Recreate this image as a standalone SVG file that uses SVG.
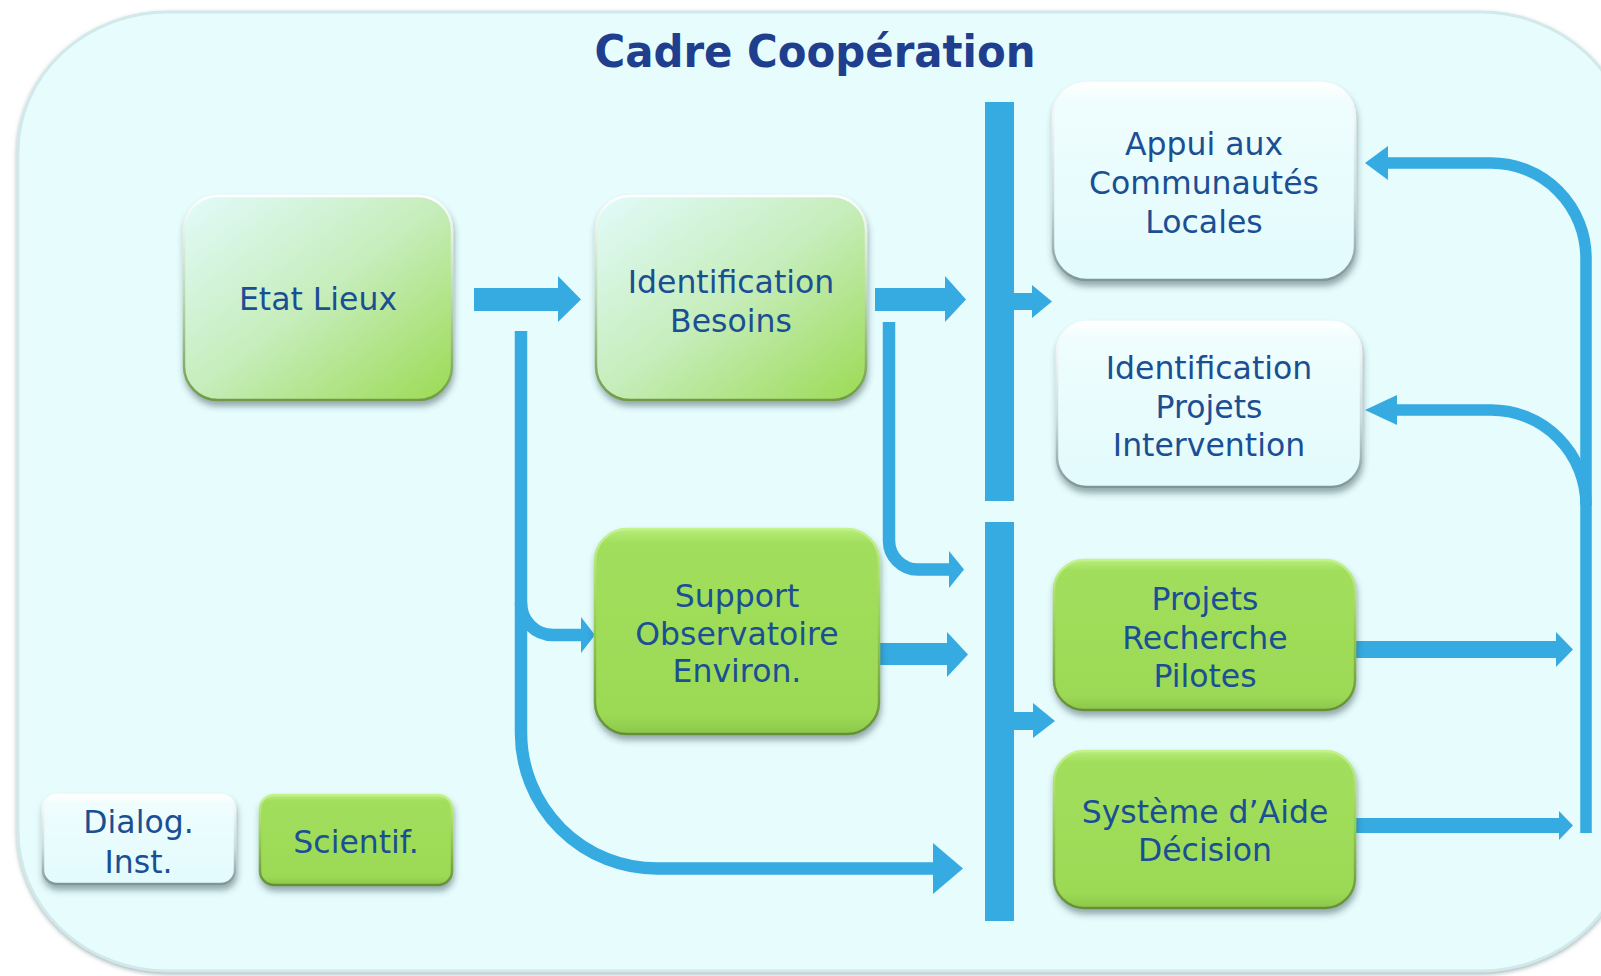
<svg xmlns="http://www.w3.org/2000/svg" width="1601" height="976" viewBox="0 0 1601 976">
<defs>
<style>
.t{font-family:"DejaVu Sans",Verdana,"Liberation Sans",sans-serif;font-size:31.5px;fill:#1b4f93;text-anchor:middle}
.title{font-family:"DejaVu Sans",Verdana,"Liberation Sans",sans-serif;font-size:45px;font-weight:bold;fill:#1f3f8e;text-anchor:middle}
.ln{fill:none;stroke:#35abe2;stroke-width:12.5}
.ah{fill:#35abe2;stroke:none}
.g{fill:url(#greenFill);stroke:url(#greenEdge);stroke-width:2.5}
.l{fill:url(#lightFill);stroke:url(#lightEdge);stroke-width:2.5}
.gr{fill:url(#gradFill);stroke:url(#gradEdge);stroke-width:2.5}
</style>
<filter id="sh" x="-10%" y="-10%" width="120%" height="130%">
<feDropShadow dx="1" dy="5" stdDeviation="3" flood-color="#2f4548" flood-opacity="0.45"/>
</filter>
<filter id="shc" x="-5%" y="-5%" width="110%" height="110%">
<feDropShadow dx="0" dy="2" stdDeviation="2" flood-color="#6f8c90" flood-opacity="0.6"/>
</filter>
<linearGradient id="gradFill" x1="0" y1="0" x2="1" y2="1">
<stop offset="0" stop-color="#e2fbfb"/>
<stop offset="0.5" stop-color="#c6edbb"/>
<stop offset="1" stop-color="#9bdb53"/>
</linearGradient>
<linearGradient id="gradEdge" x1="0" y1="0" x2="0" y2="1">
<stop offset="0" stop-color="#ffffff"/>
<stop offset="0.5" stop-color="#b9d8b0"/>
<stop offset="1" stop-color="#6f9a45"/>
</linearGradient>
<linearGradient id="greenFill" x1="0" y1="0" x2="0" y2="1">
<stop offset="0" stop-color="#b6ee7a"/>
<stop offset="0.07" stop-color="#a1de5c"/>
<stop offset="0.9" stop-color="#9cda56"/>
<stop offset="1" stop-color="#8cc84a"/>
</linearGradient>
<linearGradient id="greenEdge" x1="0" y1="0" x2="0" y2="1">
<stop offset="0" stop-color="#c4f28e"/>
<stop offset="0.5" stop-color="#92cc50"/>
<stop offset="1" stop-color="#658f38"/>
</linearGradient>
<linearGradient id="lightFill" x1="0" y1="0" x2="0" y2="1">
<stop offset="0" stop-color="#ffffff"/>
<stop offset="0.1" stop-color="#effdfd"/>
<stop offset="1" stop-color="#e2fbfd"/>
</linearGradient>
<linearGradient id="lightEdge" x1="0" y1="0" x2="0" y2="1">
<stop offset="0" stop-color="#ffffff"/>
<stop offset="0.6" stop-color="#c8dcdd"/>
<stop offset="1" stop-color="#7f9698"/>
</linearGradient>
</defs>
<rect x="0" y="0" width="1601" height="976" fill="#ffffff"/>
<g id="frame">
<rect x="18" y="12" width="1612" height="959" rx="150" ry="140" fill="#e6fcfd" stroke="#d2e9eb" stroke-width="3" filter="url(#shc)"/>
<text class="title" x="815" y="67" textLength="441" lengthAdjust="spacingAndGlyphs">Cadre Coopération</text>
</g>
<g id="connectors">
<polygon class="ah" points="474,288 558,288 558,276 581,299.5 558,322 558,311 474,311"/>
<polygon class="ah" points="875,288 945,288 945,276 966,299.5 945,322 945,311 875,311"/>
<polygon class="ah" points="879,643 947,643 947,632 968,654.5 947,677 947,665 879,665"/>
<rect class="ah" x="985" y="102" width="29" height="399"/>
<rect class="ah" x="985" y="522" width="29" height="399"/>
<polygon class="ah" points="1013,293 1032,293 1032,285 1052,301.5 1032,318 1032,310 1013,310"/>
<polygon class="ah" points="1013,712 1033,712 1033,703 1055,721 1033,738 1033,730 1013,730"/>
<polygon class="ah" points="1355,641 1556,641 1556,632 1573,649.5 1556,667 1556,658 1355,658"/>
<polygon class="ah" points="1355,818 1559,818 1559,811 1573,825.5 1559,840 1559,833 1355,833"/>
<path class="ln" d="M521,331 V733 A136,135.5 0 0 0 657,868.5 H935"/>
<polygon class="ah" points="933,843 963,868.5 933,894"/>
<path class="ln" d="M521,603 A32,32 0 0 0 553,635 H583"/>
<polygon class="ah" points="581,617 595,635 581,653"/>
<path class="ln" d="M889,322 V540 A29,29 0 0 0 918,569.5 H951"/>
<polygon class="ah" points="949,551 964,569.5 949,588"/>
<path class="ln" style="stroke-width:11.5" d="M1586,833 V258 A95,95 0 0 0 1491,163 H1388"/>
<polygon class="ah" points="1388,146 1365,163 1388,180"/>
<path class="ln" style="stroke-width:11.5" d="M1586,505 A95,95 0 0 0 1491,410 H1396"/>
<polygon class="ah" points="1397,395 1365,410 1397,425"/>
</g>
<g id="etat-lieux">
<rect class="gr" x="184" y="196" width="268" height="204" rx="34" filter="url(#sh)"/>
<text class="t" x="318" y="310">Etat Lieux</text>
</g>
<g id="identification-besoins">
<rect class="gr" x="596" y="196" width="270" height="204" rx="34" filter="url(#sh)"/>
<text class="t" x="731" y="293">Identification</text>
<text class="t" x="731" y="332">Besoins</text>
</g>
<g id="appui-communautes">
<rect class="l" x="1053" y="83" width="302" height="197" rx="34" filter="url(#sh)"/>
<text class="t" x="1204" y="155">Appui aux</text>
<text class="t" x="1204" y="194">Communautés</text>
<text class="t" x="1204" y="233">Locales</text>
</g>
<g id="identification-projets">
<rect class="l" x="1057" y="322" width="304" height="165" rx="30" filter="url(#sh)"/>
<text class="t" x="1209" y="379">Identification</text>
<text class="t" x="1209" y="417.5">Projets</text>
<text class="t" x="1209" y="456">Intervention</text>
</g>
<g id="support-observatoire">
<rect class="g" x="595" y="529" width="284" height="205" rx="32" filter="url(#sh)"/>
<text class="t" x="737" y="607">Support</text>
<text class="t" x="737" y="644.5">Observatoire</text>
<text class="t" x="737" y="682">Environ.</text>
</g>
<g id="projets-recherche">
<rect class="g" x="1054" y="560" width="301" height="150" rx="30" filter="url(#sh)"/>
<text class="t" x="1205" y="610">Projets</text>
<text class="t" x="1205" y="648.5">Recherche</text>
<text class="t" x="1205" y="687">Pilotes</text>
</g>
<g id="systeme-aide">
<rect class="g" x="1054" y="751" width="301" height="157" rx="30" filter="url(#sh)"/>
<text class="t" x="1205" y="823">Système d’Aide</text>
<text class="t" x="1205" y="861">Décision</text>
</g>
<g id="dialog-inst">
<rect class="l" x="43" y="795" width="192" height="89" rx="14" filter="url(#sh)"/>
<text class="t" x="138.5" y="833">Dialog.</text>
<text class="t" x="138.5" y="873">Inst.</text>
</g>
<g id="scientif">
<rect class="g" x="260" y="795" width="192" height="90" rx="14" filter="url(#sh)"/>
<text class="t" x="356" y="853">Scientif.</text>
</g>
</svg>
